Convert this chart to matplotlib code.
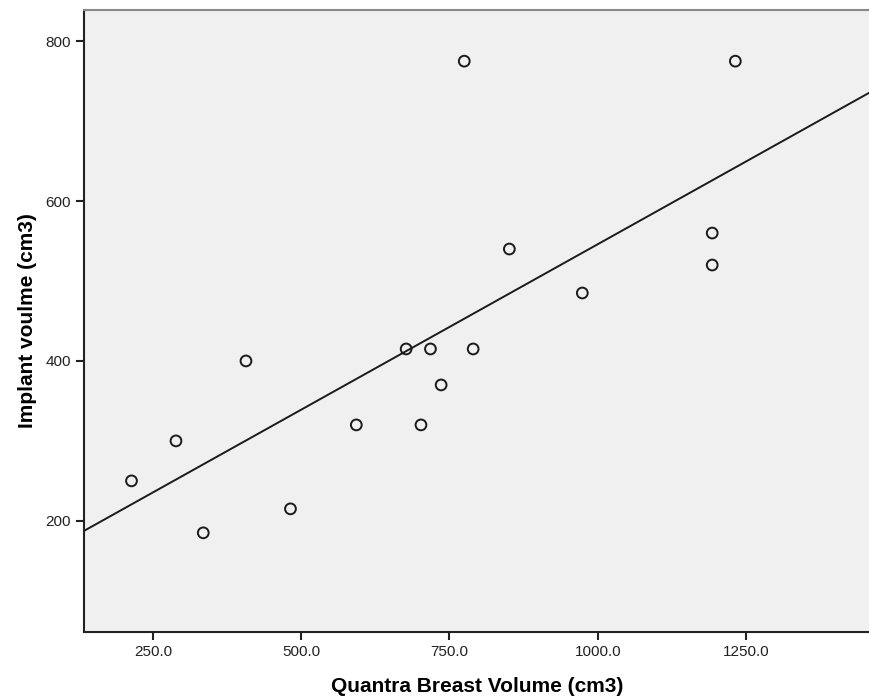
import matplotlib.pyplot as plt
import numpy as np

plt.rcParams['font.family'] = ['Liberation Sans', 'DejaVu Sans']

# Quantra breast volume (cm3) vs implant volume (cm3)
quantra_volume = [214, 289, 335, 407, 482, 593, 677, 702, 718, 736,
                  775, 790, 851, 974, 1193, 1193, 1232]
implant_volume = [250, 300, 185, 400, 215, 320, 415, 320, 415, 370,
                  775, 415, 540, 485, 560, 520, 775]

# fit line as drawn in the source chart
fit_slope = 0.414
fit_intercept = 132.0

x_ticks = [250, 500, 750, 1000, 1250]
y_ticks = [200, 400, 600, 800]
x_range = (134, 1459)
y_range = (61, 839)

fig = plt.figure(figsize=(8.7, 6.99), dpi=100)
ax = fig.add_axes([0.0966, 0.0959, 0.9034, 0.8898])
ax.set_facecolor('#f0f0f0')

ax.scatter(quantra_volume, implant_volume, s=60, facecolors='none',
           edgecolors='#1a1a1a', linewidths=1.4, zorder=3)

xs = np.array(x_range)
ax.plot(xs, fit_slope * xs + fit_intercept, color='#1a1a1a', lw=1.4, zorder=2)

ax.set_xlim(*x_range)
ax.set_ylim(*y_range)
ax.set_xticks(x_ticks)
ax.set_xticklabels([f'{t:.1f}' for t in x_ticks])
ax.set_yticks(y_ticks)
ax.tick_params(direction='out', length=6, width=1.5, labelsize=11, colors='#222222')

for side in ['left', 'bottom']:
    ax.spines[side].set_linewidth(1.5)
    ax.spines[side].set_color('#222222')
ax.spines['top'].set_color('#888888')
ax.spines['top'].set_linewidth(1.5)
ax.spines['right'].set_visible(False)

ax.set_xlabel('Quantra Breast Volume (cm3)', fontsize=15, fontweight='bold', labelpad=13)
ax.set_ylabel('Implant voulme (cm3)', fontsize=15, fontweight='bold', labelpad=6)

fig.savefig('out.png', dpi=100)
